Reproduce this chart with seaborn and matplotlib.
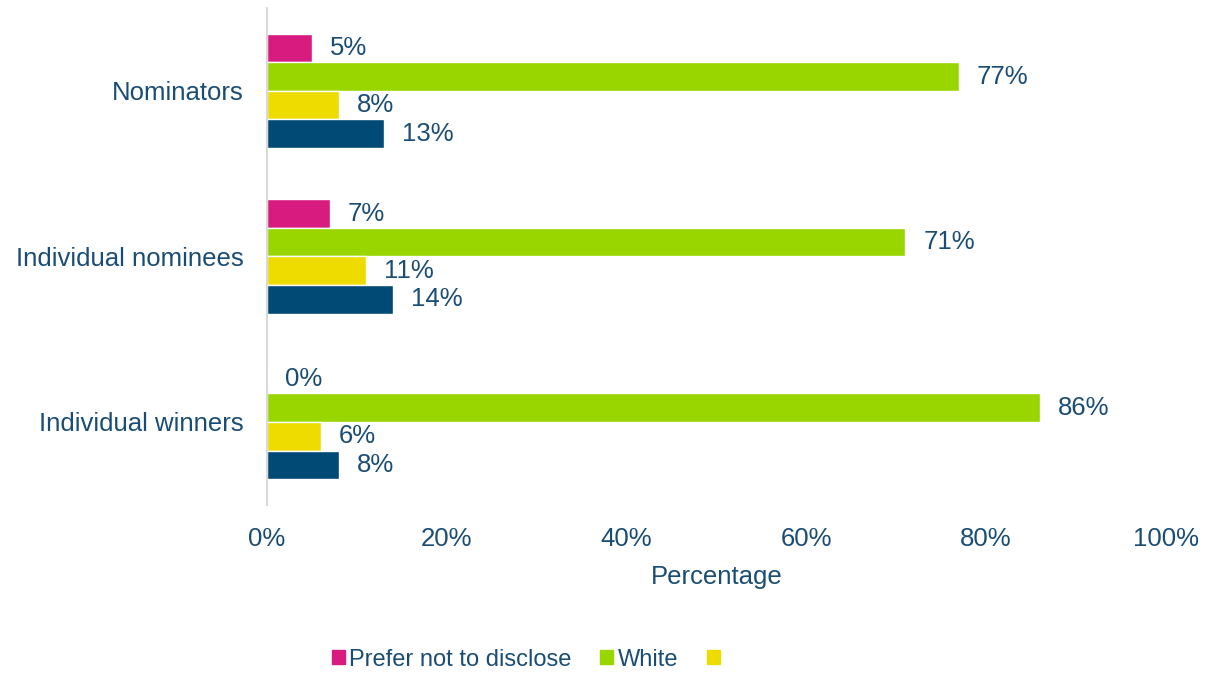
import matplotlib
matplotlib.use("Agg")
import matplotlib.pyplot as plt
from matplotlib.patches import Patch
import seaborn as sns
import pandas as pd

groups = ["Nominators", "Individual nominees", "Individual winners"]
series = ["Prefer not to disclose", "White", "Series 3", "Series 4"]
prefer_not = [5, 7, 0]
white = [77, 71, 86]
series3 = [8, 11, 6]
series4 = [13, 14, 8]
legend_labels = ["Prefer not to disclose", "White", ""]
x_ticks = [0, 20, 40, 60, 80, 100]

colors = ["#d81b7f", "#99d600", "#eedc00", "#004a75"]
text_col = "#1a4d75"

rows = []
for name, vals in zip(series, [prefer_not, white, series3, series4]):
    for g, v in zip(groups, vals):
        rows.append({"group": g, "series": name, "value": v})
df = pd.DataFrame(rows)

sns.set_style("white")
plt.rcParams["font.family"] = ["Liberation Sans", "DejaVu Sans"]

fig = plt.figure(figsize=(12.08, 6.73), dpi=100)
ax = fig.add_axes([0.221, 0.250, 0.744, 0.738])

sns.barplot(data=df, x="value", y="group", hue="series", order=groups,
            hue_order=series, palette=colors, orient="h", width=0.69,
            saturation=1, ax=ax, legend=False)

for cont in ax.containers:
    labels = [f"{int(round(b.get_width()))}%" for b in cont]
    ax.bar_label(cont, labels=labels, padding=13, fontsize=18.5, color=text_col)

ax.set_xlim(0, 100)
ax.set_xticks(x_ticks)
ax.set_xticklabels([f"{t}%" for t in x_ticks])
ax.tick_params(axis="x", length=0, pad=16, labelsize=18.5, labelcolor=text_col)
ax.tick_params(axis="y", length=0, pad=17, labelsize=18.5, labelcolor=text_col)
ax.set_xlabel("Percentage", fontsize=18.5, color=text_col, labelpad=10)
ax.set_ylabel("")

for s in ["top", "right", "bottom"]:
    ax.spines[s].set_visible(False)
ax.spines["left"].set_color("#d9d9d9")
ax.spines["left"].set_linewidth(1.5)

handles = [Patch(color=c) for c in colors[:3]]
fig.legend(handles, legend_labels, loc="center", bbox_to_anchor=(0.437, 0.02),
           ncol=3, frameon=False, fontsize=17, labelcolor=text_col,
           handlelength=0.55, handleheight=0.55, handletextpad=0.2,
           columnspacing=1.2)

fig.savefig("out.png", dpi=100)
